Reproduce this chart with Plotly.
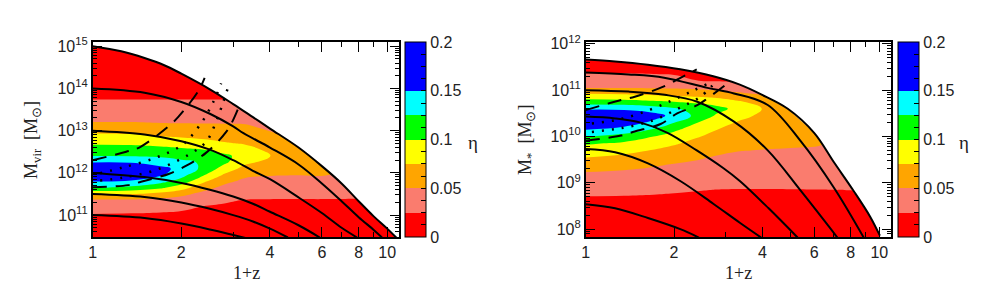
import numpy as np
import plotly.graph_objects as go

# ---------------- LEFT PANEL: eta(1+z, log10 Mvir) ----------------
L_ZP1 = [1.0, 1.35, 1.7, 2.0, 2.4, 2.8, 3.3, 4.0, 5.0, 6.3, 7.9, 11.2]
L_LOGM = [10.3, 10.7, 11.0, 11.2, 11.35, 11.5, 11.65, 11.8, 11.95, 12.1, 12.25,
          12.4, 12.55, 12.7, 12.9, 13.1, 13.3, 13.6, 13.9, 14.3, 15.3]
# eta along L_LOGM, one list per 1+z column
L_ETA = [
    [0.008, 0.015, 0.0233, 0.0353, 0.0463, 0.0752, 0.128, 0.1502, 0.177, 0.176, 0.1498, 0.1248, 0.111, 0.097, 0.0787, 0.0576, 0.0434, 0.0281, 0.0214, 0.0154, 0.004],
    [0.009, 0.016, 0.0228, 0.0333, 0.0458, 0.0752, 0.1194, 0.1467, 0.1717, 0.1733, 0.1483, 0.1241, 0.1102, 0.0962, 0.0769, 0.057, 0.0434, 0.0281, 0.0214, 0.0154, 0.004],
    [0.009, 0.016, 0.0223, 0.0308, 0.0433, 0.0659, 0.1045, 0.1333, 0.1533, 0.1565, 0.1388, 0.1213, 0.1074, 0.0924, 0.0717, 0.055, 0.043, 0.028, 0.0214, 0.0154, 0.004],
    [0.009, 0.016, 0.0219, 0.0282, 0.0403, 0.0558, 0.0854, 0.1154, 0.1337, 0.1433, 0.1302, 0.1172, 0.1043, 0.0886, 0.0691, 0.0544, 0.043, 0.028, 0.0214, 0.0154, 0.004],
    [0.009, 0.016, 0.021, 0.0243, 0.0326, 0.0431, 0.0569, 0.0779, 0.1002, 0.1176, 0.1219, 0.1109, 0.0998, 0.083, 0.0667, 0.0538, 0.043, 0.028, 0.0214, 0.0154, 0.004],
    [0.009, 0.016, 0.0204, 0.0233, 0.0267, 0.0355, 0.0442, 0.0554, 0.0717, 0.0886, 0.105, 0.1041, 0.092, 0.077, 0.0648, 0.0534, 0.043, 0.028, 0.0214, 0.0154, 0.004],
    [0.009, 0.016, 0.0199, 0.0224, 0.0244, 0.03, 0.0375, 0.045, 0.0542, 0.0667, 0.0803, 0.0926, 0.0825, 0.073, 0.0628, 0.0526, 0.0426, 0.0279, 0.0214, 0.0154, 0.004],
    [0.009, 0.016, 0.0198, 0.0223, 0.0241, 0.0289, 0.0363, 0.0436, 0.0511, 0.0594, 0.0678, 0.0757, 0.0706, 0.0632, 0.0534, 0.0453, 0.038, 0.0272, 0.0214, 0.0154, 0.004],
    [0.009, 0.016, 0.0198, 0.0223, 0.0241, 0.0288, 0.0361, 0.0433, 0.0503, 0.0552, 0.0601, 0.065, 0.0575, 0.0498, 0.0429, 0.0357, 0.0286, 0.0221, 0.0178, 0.012, 0.004],
    [0.009, 0.016, 0.0198, 0.0223, 0.0241, 0.0288, 0.0358, 0.0429, 0.0502, 0.0535, 0.057, 0.0481, 0.0423, 0.0365, 0.0288, 0.0238, 0.0215, 0.0181, 0.0146, 0.01, 0.004],
    [0.009, 0.016, 0.0198, 0.0223, 0.0241, 0.0276, 0.0324, 0.0373, 0.0421, 0.047, 0.0404, 0.0338, 0.0272, 0.024, 0.022, 0.02, 0.018, 0.015, 0.012, 0.008, 0.004],
    [0.009, 0.016, 0.0198, 0.0223, 0.0241, 0.0271, 0.031, 0.0348, 0.0387, 0.035, 0.0275, 0.024, 0.023, 0.022, 0.02, 0.018, 0.016, 0.013, 0.011, 0.008, 0.004],
]

# halo mass tracks (1+z, log10 Mvir)
L_TRACKS = [
    ([1.0, 1.25, 1.5, 1.75, 2.0, 2.5, 3.0, 3.5, 4.0, 5.0, 6.0, 7.0, 8.0, 9.0, 10.0, 10.8],
     [15.0, 14.88, 14.72, 14.55, 14.35, 13.98, 13.63, 13.32, 13.05, 12.6, 12.16, 11.75, 11.33, 10.97, 10.68, 10.45]),
    ([1.0, 1.5, 2.0, 2.5, 3.0, 3.25, 4.0, 5.0, 6.0, 7.0, 8.0, 9.0, 9.6],
     [14.0, 13.9, 13.68, 13.4, 13.1, 12.94, 12.6, 12.2, 11.75, 11.33, 10.95, 10.65, 10.47]),
    ([1.0, 1.5, 2.0, 2.5, 3.0, 3.5, 4.0, 5.0, 6.0, 7.0, 7.9],
     [13.0, 12.91, 12.75, 12.55, 12.3, 12.05, 11.85, 11.42, 11.05, 10.7, 10.47]),
    ([1.0, 1.5, 2.0, 2.5, 3.0, 3.5, 4.0, 5.0, 5.9],
     [12.0, 11.9, 11.76, 11.6, 11.44, 11.27, 11.08, 10.76, 10.47]),
    ([1.0, 1.5, 2.0, 2.5, 3.0, 3.5, 4.0, 4.6],
     [11.5, 11.43, 11.3, 11.15, 11.0, 10.85, 10.68, 10.47]),
    ([1.0, 1.5, 2.0, 2.5, 3.0, 3.3],
     [11.0, 10.93, 10.8, 10.66, 10.53, 10.46]),
]
L_DASHED = [
    ([1.0, 1.30, 1.44, 1.80, 1.95, 2.28, 2.40], [12.3, 12.5, 12.6, 13.09, 13.32, 13.93, 14.25]),
    ([1.0, 1.32, 1.46, 1.82, 2.08, 2.43, 2.84, 3.03, 3.19], [11.66, 11.71, 11.79, 11.98, 12.17, 12.48, 12.97, 13.32, 13.70]),
]
L_DOTTED = [
    ([1.06, 1.27, 1.64, 2.02, 2.31, 2.56, 2.73], [11.99, 12.13, 12.36, 12.67, 13.13, 13.66, 14.12]),
    ([1.06, 1.27, 1.64, 2.13, 2.43, 2.62, 2.77, 2.91], [11.82, 11.89, 12.07, 12.44, 12.74, 13.2, 13.66, 14.12]),
]

# ---------------- RIGHT PANEL: eta(1+z, log10 M*) ----------------
R_ZP1 = [1.0, 1.35, 1.7, 2.0, 2.4, 2.8, 3.3, 4.0, 5.0, 6.3, 7.9, 11.2]
R_LOGMS = [7.7, 8.2, 8.5, 8.7, 8.85, 9.0, 9.2, 9.4, 9.55, 9.7, 9.85, 10.0, 10.15,
           10.3, 10.45, 10.6, 10.75, 10.9, 11.05, 11.2, 11.4, 11.7, 12.2]
R_ETA = [
    [0.008, 0.013, 0.0199, 0.0245, 0.0311, 0.0382, 0.0476, 0.0625, 0.0752, 0.0884, 0.1029, 0.1252, 0.1502, 0.1761, 0.176, 0.1458, 0.1125, 0.0792, 0.0498, 0.035, 0.0228, 0.016, 0.01],
    [0.008, 0.013, 0.0197, 0.0241, 0.0299, 0.0366, 0.0455, 0.0578, 0.0695, 0.0821, 0.0955, 0.1156, 0.1391, 0.1656, 0.1747, 0.1438, 0.11, 0.0771, 0.0498, 0.035, 0.0228, 0.016, 0.01],
    [0.008, 0.013, 0.0193, 0.0235, 0.0284, 0.0347, 0.0432, 0.0528, 0.0632, 0.0736, 0.0866, 0.1002, 0.1234, 0.1434, 0.1601, 0.1357, 0.1045, 0.0733, 0.049, 0.0333, 0.0221, 0.015, 0.01],
    [0.008, 0.013, 0.019, 0.023, 0.027, 0.0331, 0.0411, 0.0492, 0.0581, 0.0675, 0.0775, 0.09, 0.1042, 0.1252, 0.1426, 0.1277, 0.0998, 0.0703, 0.0477, 0.0307, 0.0217, 0.015, 0.01],
    [0.008, 0.013, 0.0187, 0.0225, 0.0257, 0.0313, 0.0388, 0.0463, 0.0526, 0.0604, 0.0682, 0.0766, 0.0883, 0.1002, 0.1184, 0.1162, 0.0942, 0.0676, 0.0458, 0.0252, 0.0206, 0.014, 0.01],
    [0.008, 0.013, 0.0185, 0.0221, 0.0248, 0.0297, 0.0365, 0.0432, 0.0483, 0.0545, 0.0614, 0.0682, 0.0752, 0.0857, 0.0964, 0.108, 0.0875, 0.0639, 0.0417, 0.0239, 0.0195, 0.013, 0.01],
    [0.008, 0.013, 0.0183, 0.0218, 0.0245, 0.0288, 0.035, 0.0413, 0.0459, 0.0507, 0.0563, 0.0619, 0.0675, 0.0731, 0.082, 0.0926, 0.0775, 0.0588, 0.0346, 0.0228, 0.0185, 0.012, 0.009],
    [0.008, 0.013, 0.0183, 0.0218, 0.0245, 0.0286, 0.0345, 0.0405, 0.0449, 0.0494, 0.0537, 0.058, 0.0622, 0.0665, 0.0707, 0.0745, 0.067, 0.0498, 0.024, 0.021, 0.017, 0.011, 0.009],
    [0.008, 0.013, 0.0184, 0.022, 0.0246, 0.0287, 0.0345, 0.0402, 0.0445, 0.0489, 0.052, 0.0548, 0.0576, 0.0604, 0.0631, 0.0625, 0.055, 0.045, 0.03, 0.0227, 0.018, 0.011, 0.009],
    [0.008, 0.013, 0.0185, 0.0221, 0.0248, 0.0288, 0.0342, 0.0397, 0.0438, 0.0478, 0.0509, 0.053, 0.055, 0.057, 0.0535, 0.0495, 0.0406, 0.0313, 0.024, 0.021, 0.017, 0.011, 0.009],
    [0.008, 0.013, 0.0185, 0.0222, 0.0252, 0.0276, 0.0312, 0.0347, 0.0373, 0.04, 0.0426, 0.0452, 0.0456, 0.0415, 0.0374, 0.0333, 0.0291, 0.0248, 0.023, 0.021, 0.017, 0.011, 0.009],
    [0.008, 0.013, 0.0185, 0.0222, 0.0252, 0.027, 0.03, 0.033, 0.035, 0.037, 0.039, 0.0395, 0.038, 0.035, 0.032, 0.029, 0.026, 0.024, 0.022, 0.02, 0.016, 0.011, 0.009],
]
R_TRACKS = [
    ([1.0, 1.26, 1.63, 2.1, 2.72, 3.35, 3.96, 4.88, 6.0, 7.0, 8.17, 9.31, 10.05],
     [11.66, 11.62, 11.55, 11.45, 11.30, 11.12, 10.91, 10.60, 10.08, 9.45, 8.83, 8.27, 7.86]),
    ([1.0, 1.4, 1.85, 2.6, 3.2, 4.17, 5.4, 7.0, 8.85],
     [11.38, 11.34, 11.27, 11.05, 10.93, 10.68, 9.9, 8.9, 7.82]),
    ([1.0, 1.4, 1.86, 2.4, 3.2, 4.17, 5.4, 7.2],
     [11.0, 10.97, 10.9, 10.75, 10.32, 9.70, 8.83, 7.82]),
    ([1.0, 1.26, 1.54, 1.9, 2.39, 2.94, 3.35, 4.2, 5.27],
     [10.43, 10.39, 10.30, 10.08, 9.70, 9.32, 9.04, 8.45, 7.82]),
    ([1.0, 1.26, 1.63, 2.1, 2.72, 3.35, 3.96],
     [9.73, 9.66, 9.42, 9.04, 8.55, 8.14, 7.82]),
    ([1.0, 1.26, 1.63, 2.1, 2.43],
     [8.54, 8.45, 8.24, 8.0, 7.82]),
]
R_DASHED = [
    ([1.0, 1.32, 1.47, 1.83, 2.08, 2.39], [10.57, 10.79, 10.86, 11.07, 11.25, 11.45]),
    ([1.0, 1.32, 1.47, 1.80, 2.05, 2.39, 2.62, 3.06], [9.91, 10.02, 10.11, 10.27, 10.5, 10.67, 10.84, 11.16]),
]
R_DOTTED = [
    ([1.05, 1.32, 1.66, 2.0, 2.34, 2.63], [10.28, 10.38, 10.58, 10.8, 11.0, 11.15]),
    ([1.05, 1.32, 1.70, 2.09, 2.45, 2.7], [10.1, 10.18, 10.35, 10.62, 10.85, 11.1]),
]

ETA_TICKS = [0, 0.0125, 0.025, 0.0375, 0.05, 0.0625, 0.075, 0.0875, 0.1, 0.1125,
             0.125, 0.1375, 0.15, 0.1625, 0.175, 0.1875, 0.2]
ETA_LABELS = ["0", "", "", "", "0.05", "", "", "", "0.1", "", "", "", "0.15", "", "", "", "0.2"]
X_TICKS = [1, 2, 4, 6, 8, 10]
X_MINOR = [3, 5, 7, 9]

# ---------------- figure ----------------
W, H = 997, 305
BAND_COLORS = ["#ff0000", "#fa7c6e", "#ffa500", "#ffff00", "#00ff00", "#00ffff", "#0000ff", "#0000ff"]
cs = []
for i, c in enumerate(BAND_COLORS):
    cs.append([i / 8, c])
    cs.append([(i + 1) / 8, c])

TICKFONT = dict(family="Liberation Sans", size=16, color="#222")
TITLEFONT = dict(family="Liberation Serif", size=18, color="#222")

fig = go.Figure()

panels = [
    dict(xa="x", ya="y", zp1=L_ZP1, logm=L_LOGM, eta=L_ETA, tracks=L_TRACKS,
         dashed=L_DASHED, dotted=L_DOTTED, px=(89, 397), py=(34, 235), cbx=403,
         yr=(10.48, 15.1), ydec=[11, 12, 13, 14, 15], etax=471,
         ytitle="M<sub>vir</sub>  [M<sub>⊙</sub>]", ytx=28),
    dict(xa="x2", ya="y2", zp1=R_ZP1, logm=R_LOGMS, eta=R_ETA, tracks=R_TRACKS,
         dashed=R_DASHED, dotted=R_DOTTED, px=(584, 891), py=(34, 235), cbx=898,
         yr=(7.83, 12.04), ydec=[8, 9, 10, 11, 12], etax=964,
         ytitle="M<sub>*</sub>  [M<sub>⊙</sub>]", ytx=524),
]

layout = dict(width=W, height=H, margin=dict(l=0, r=0, t=0, b=0),
              paper_bgcolor="white", plot_bgcolor="white", showlegend=False,
              annotations=[])

for k, p in enumerate(panels):
    z = np.array(p["eta"]).T
    fig.add_trace(go.Contour(
        x=np.log10(p["zp1"]), y=p["logm"], z=z, xaxis=p["xa"], yaxis=p["ya"],
        zmin=0, zmax=0.2, autocontour=False,
        contours=dict(start=0, end=0.2, size=0.025, coloring="fill", showlines=False),
        line=dict(width=0, smoothing=1.3), colorscale=cs, hoverinfo="skip",
        colorbar=dict(x=p["cbx"] / W, xanchor="left", y=1 - p["py"][1] / H, yanchor="bottom",
                      len=(p["py"][1] - p["py"][0]) / H, lenmode="fraction",
                      thickness=21, thicknessmode="pixels", outlinecolor="black",
                      outlinewidth=1, xpad=0, ypad=0,
                      tickvals=ETA_TICKS, ticktext=ETA_LABELS, ticks="inside",
                      ticklen=5, tickcolor="black", tickfont=TICKFONT),
    ))
    # white mask above the most massive track
    bx, by = p["tracks"][0]
    mx = list(np.log10(bx)) + [np.log10(bx[-1]) + 0.02, 1.3, 1.3, -0.2, -0.2]
    my = list(by) + [p["yr"][0] - 0.5, p["yr"][0] - 0.5, p["yr"][1] + 1, p["yr"][1] + 1, by[0]]
    fig.add_trace(go.Scatter(x=mx, y=my, xaxis=p["xa"], yaxis=p["ya"], mode="lines",
                             fill="toself", fillcolor="white", line=dict(width=0),
                             hoverinfo="skip"))
    for tx, ty in p["tracks"]:
        fig.add_trace(go.Scatter(x=np.log10(tx), y=ty, xaxis=p["xa"], yaxis=p["ya"],
                                 mode="lines", line=dict(color="black", width=2, shape="spline"),
                                 hoverinfo="skip"))
    for tx, ty in p["dashed"]:
        fig.add_trace(go.Scatter(x=np.log10(tx), y=ty, xaxis=p["xa"], yaxis=p["ya"],
                                 mode="lines", line=dict(color="black", width=2, shape="spline",
                                                         dash="14px,9px"), hoverinfo="skip"))
    for tx, ty in p["dotted"]:
        fig.add_trace(go.Scatter(x=np.log10(tx), y=ty, xaxis=p["xa"], yaxis=p["ya"],
                                 mode="lines", line=dict(color="black", width=2.5, shape="spline",
                                                         dash="2px,8px"), hoverinfo="skip"))

    xname = "xaxis" if k == 0 else "xaxis2"
    yname = "yaxis" if k == 0 else "yaxis2"
    yminor = [d + np.log10(m) for d in range(int(p["yr"][0]) - 1, int(p["yr"][1]) + 1)
              for m in range(2, 10)]
    yminor = [v for v in yminor if p["yr"][0] < v < p["yr"][1]]
    layout[xname] = dict(domain=[p["px"][0] / W, p["px"][1] / W], range=[0, 1.0414],
                         anchor=p["ya"], tickvals=list(np.log10(X_TICKS)),
                         ticktext=[str(t) for t in X_TICKS], ticks="inside", ticklen=10,
                         tickcolor="black", tickwidth=1, showline=True, linecolor="black",
                         linewidth=1.5, mirror="ticks", showgrid=False, zeroline=False,
                         tickfont=TICKFONT,
                         minor=dict(tickvals=list(np.log10(X_MINOR)), ticks="inside",
                                    ticklen=5, tickcolor="black", showgrid=False))
    layout[yname] = dict(domain=[1 - p["py"][1] / H, 1 - p["py"][0] / H], range=list(p["yr"]),
                         anchor=p["xa"], tickvals=p["ydec"],
                         ticktext=["10<sup>%d</sup>" % d for d in p["ydec"]],
                         ticks="inside", ticklen=10, tickcolor="black", tickwidth=1,
                         showline=True, linecolor="black", linewidth=1.5, mirror="ticks",
                         showgrid=False, zeroline=False, tickfont=TICKFONT,
                         minor=dict(tickvals=yminor, ticks="inside", ticklen=5,
                                    tickcolor="black", showgrid=False))
    cx = (p["px"][0] + p["px"][1]) / 2 / W
    layout["annotations"] += [
        dict(text="1+z", x=cx, y=1 - 272 / H, xref="paper", yref="paper",
             showarrow=False, font=TITLEFONT, xanchor="center", yanchor="middle"),
        dict(text=p["ytitle"], x=p["ytx"] / W, y=1 - 135 / H, xref="paper", yref="paper",
             showarrow=False, font=TITLEFONT, textangle=-90, xanchor="center", yanchor="middle"),
        dict(text="η", x=p["etax"] / W, y=1 - 138 / H, xref="paper", yref="paper",
             showarrow=False, font=dict(family="Liberation Serif", size=19, color="#222"),
             xanchor="center", yanchor="middle"),
    ]

fig.update_layout(**layout)
fig.write_html("out.html", config={"displayModeBar": False},
               post_script="document.body.style.margin='0';document.body.style.overflow='hidden';")
